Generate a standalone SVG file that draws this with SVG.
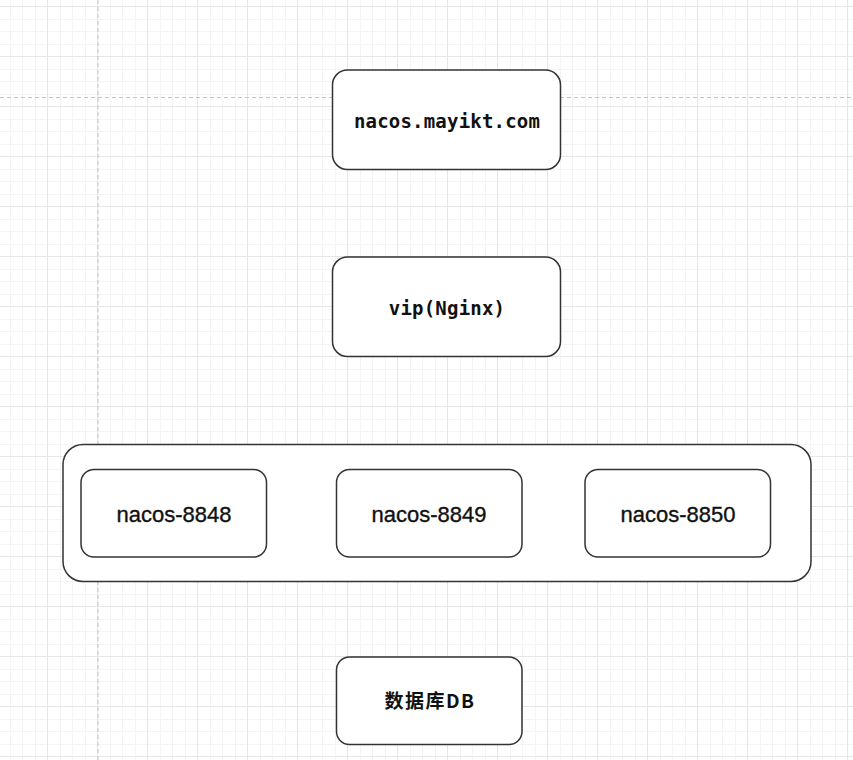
<svg xmlns="http://www.w3.org/2000/svg" width="853" height="760" viewBox="0 0 853 760">
  <style>
    .box { fill: #ffffff; stroke: #333333; stroke-width: 1.5; }
    .mono { font-family: "DejaVu Sans Mono", "Liberation Mono", monospace; font-weight: bold; font-size: 19px; letter-spacing: 0.2px; fill: #111111; text-anchor: middle; }
    .sans { font-family: "Liberation Sans", Arial, sans-serif; font-size: 22px; fill: #111111; stroke: #111111; stroke-width: 0.35; text-anchor: middle; }
    .cjk { font-family: "Noto Sans CJK SC", "Noto Sans CJK JP", sans-serif; font-weight: bold; font-size: 19px; letter-spacing: 1.5px; fill: #111111; text-anchor: middle; }
    .guide { stroke: #c4c4c4; stroke-width: 1; stroke-dasharray: 4 3; fill: none; }
  </style>
  <defs>
    <pattern id="grid" x="-3" y="6" width="50" height="50" patternUnits="userSpaceOnUse">
      <g stroke="#f4f4f4" stroke-width="1">
        <line x1="13.5" y1="0" x2="13.5" y2="50"/>
        <line x1="25.5" y1="0" x2="25.5" y2="50"/>
        <line x1="38.5" y1="0" x2="38.5" y2="50"/>
        <line x1="0" y1="13.5" x2="50" y2="13.5"/>
        <line x1="0" y1="25.5" x2="50" y2="25.5"/>
        <line x1="0" y1="38.5" x2="50" y2="38.5"/>
      </g>
      <g stroke="#e6e6e6" stroke-width="1">
        <line x1="0.5" y1="0" x2="0.5" y2="50"/>
        <line x1="0" y1="0.5" x2="50" y2="0.5"/>
      </g>
    </pattern>
  </defs>
  <rect x="0" y="0" width="853" height="760" fill="#ffffff"/>
  <rect x="0" y="0" width="853" height="760" fill="url(#grid)"/>
  <line class="guide" x1="98" y1="0" x2="98" y2="760"/>
  <line class="guide" x1="0" y1="97.5" x2="853" y2="97.5"/>

  <g id="connectors"></g>

  <g id="node-domain">
    <rect class="box" x="332.5" y="70" width="228" height="99.5" rx="15" ry="15"/>
    <text class="mono" x="447" y="128">nacos.mayikt.com</text>
  </g>
  <g id="node-vip">
    <rect class="box" x="332.5" y="257" width="228" height="99.5" rx="15" ry="15"/>
    <text class="mono" x="447" y="315">vip(Nginx)</text>
  </g>
  <g id="node-cluster">
    <rect class="box" x="63" y="444.5" width="748" height="137" rx="20" ry="20"/>
  </g>
  <g id="node-8848">
    <rect class="box" x="81" y="469.5" width="185.5" height="87.5" rx="13" ry="13"/>
    <text class="sans" x="174" y="522">nacos-8848</text>
  </g>
  <g id="node-8849">
    <rect class="box" x="336.5" y="469.5" width="185.5" height="87.5" rx="13" ry="13"/>
    <text class="sans" x="429" y="522">nacos-8849</text>
  </g>
  <g id="node-8850">
    <rect class="box" x="585" y="469.5" width="185.5" height="87.5" rx="13" ry="13"/>
    <text class="sans" x="678" y="522">nacos-8850</text>
  </g>
  <g id="node-db">
    <rect class="box" x="336.5" y="657" width="185.5" height="87.5" rx="13" ry="13"/>
    <text class="cjk" x="430" y="708">数据库DB</text>
  </g>
</svg>
